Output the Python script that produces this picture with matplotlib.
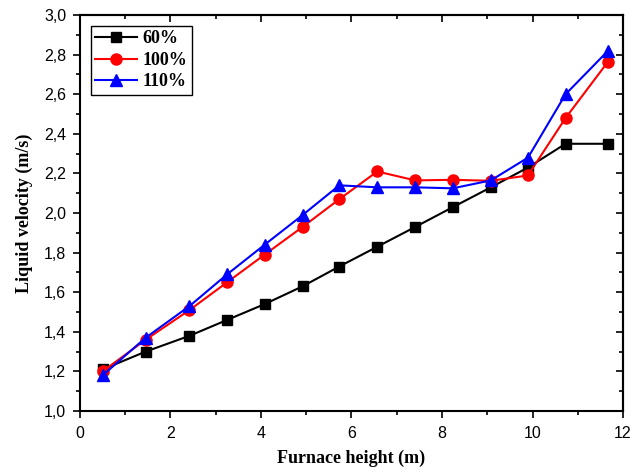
import matplotlib
matplotlib.use("Agg")
import matplotlib.pyplot as plt
from matplotlib.ticker import MultipleLocator, FuncFormatter

x = [0.5, 1.45, 2.42, 3.25, 4.08, 4.92, 5.73, 6.57, 7.41, 8.24, 9.08, 9.9, 10.73, 11.67]
v60 = [1.21, 1.30, 1.38, 1.46, 1.54, 1.63, 1.73, 1.83, 1.93, 2.03, 2.13, 2.23, 2.35, 2.35]
v100 = [1.20, 1.36, 1.51, 1.65, 1.79, 1.93, 2.07, 2.21, 2.165, 2.168, 2.163, 2.19, 2.48, 2.765]
v110 = [1.18, 1.37, 1.53, 1.69, 1.84, 1.99, 2.14, 2.13, 2.13, 2.125, 2.165, 2.28, 2.60, 2.82]
labels = ["60%", "100%", "110%"]

fig = plt.figure(figsize=(6.44, 4.72), dpi=100)
ax = fig.add_axes([0.1242, 0.1292, 0.8432, 0.8388])

ax.plot(x, v60, color="black", marker="s", markersize=7, lw=1.5, label=labels[0])
ax.plot(x, v100, color="red", marker="o", markersize=8, lw=1.5, label=labels[1])
ax.plot(x, v110, color="blue", marker="^", markersize=8, lw=1.5, label=labels[2])

ax.set_xlim(0, 12)
ax.set_ylim(1.0, 3.0)
ax.xaxis.set_major_locator(MultipleLocator(2))
ax.xaxis.set_minor_locator(MultipleLocator(1))
ax.yaxis.set_major_locator(MultipleLocator(0.2))
ax.yaxis.set_minor_locator(MultipleLocator(0.1))
ax.yaxis.set_major_formatter(FuncFormatter(lambda v, p: f"{v:.1f}".replace(".", ",")))

for s in ax.spines.values():
    s.set_linewidth(1.5)

ax.tick_params(which="both", direction="out", top=False, right=False, width=1.2)
ax.tick_params(which="major", length=5)
ax.tick_params(which="minor", length=3)
ax.tick_params(axis="x", pad=6)
ax.tick_params(axis="y", pad=5)
ax.tick_params(labelsize=11.5)
for lab in ax.get_xticklabels() + ax.get_yticklabels():
    lab.set_fontfamily("Liberation Sans")

# inward ticks on top and right via secondary axes
sx = ax.secondary_xaxis("top")
sx.xaxis.set_major_locator(MultipleLocator(2))
sx.xaxis.set_minor_locator(MultipleLocator(1))
sx.tick_params(which="both", direction="in", labeltop=False, width=1.2)
sx.tick_params(which="major", length=5)
sx.tick_params(which="minor", length=3)
sx.spines["top"].set_linewidth(1.5)
sy = ax.secondary_yaxis("right")
sy.yaxis.set_major_locator(MultipleLocator(0.2))
sy.yaxis.set_minor_locator(MultipleLocator(0.1))
sy.tick_params(which="both", direction="in", labelright=False, width=1.2)
sy.tick_params(which="major", length=5)
sy.tick_params(which="minor", length=3)
sy.spines["right"].set_linewidth(1.5)

ax.set_xlabel("Furnace height (m)", fontfamily="Liberation Serif", fontweight="bold", fontsize=13, labelpad=6)
ax.set_ylabel("Liquid velocity (m/s)", fontfamily="Liberation Serif", fontweight="bold", fontsize=13, labelpad=8)

leg = ax.legend(loc="upper left", prop={"family": "Liberation Serif", "weight": "bold", "size": 13},
                fancybox=False, edgecolor="black", framealpha=1, borderpad=0.25,
                handlelength=2.3, labelspacing=0.25, handletextpad=0.3, borderaxespad=0.6)
leg.get_frame().set_linewidth(1.0)

fig.savefig("out.png", dpi=100)
